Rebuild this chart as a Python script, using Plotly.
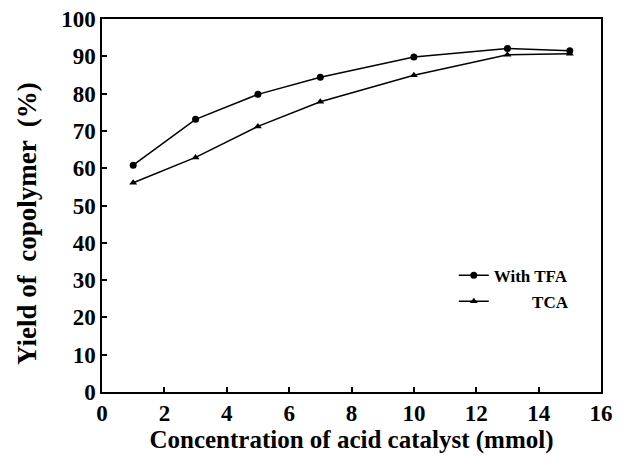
import plotly.graph_objects as go

conc = [1, 3, 5, 7, 10, 13, 15]
tfa = [60.8, 73.1, 79.8, 84.4, 89.8, 92.1, 91.5]
tca = [56.1, 62.9, 71.2, 77.8, 84.9, 90.4, 90.7]

xticks = [0, 2, 4, 6, 8, 10, 12, 14, 16]
yticks = [0, 10, 20, 30, 40, 50, 60, 70, 80, 90, 100]

font_family = "Liberation Serif, Times New Roman, serif"

fig = go.Figure()
fig.add_trace(go.Scatter(
    x=conc, y=tfa, mode="lines+markers", name="<b>With TFA</b>",
    legendgroup="a",
    line=dict(color="black", width=1.5),
    marker=dict(symbol="circle", size=7, color="black"),
))
fig.add_trace(go.Scatter(
    x=conc, y=tca, mode="lines+markers",
    name="<b>\u00a0\u00a0\u00a0\u00a0\u00a0\u00a0\u00a0\u00a0\u00a0TCA</b>",
    legendgroup="b",
    line=dict(color="black", width=1.5),
    marker=dict(symbol="triangle-up", size=7, color="black"),
))

axis_common = dict(
    showline=True, linecolor="black", linewidth=1.5, mirror=True,
    ticks="inside", ticklen=5, tickwidth=1.5, tickcolor="black",
    showgrid=False, zeroline=False, ticklabeloverflow="allow",
    automargin=False,
    tickfont=dict(family=font_family, size=23, color="black", weight="bold"),
)

fig.update_layout(
    width=607, height=446,
    margin=dict(l=94, r=14, t=11, b=62, autoexpand=False),
    plot_bgcolor="white", paper_bgcolor="white",
    font=dict(family=font_family, color="black"),
    xaxis=dict(
        range=[0, 16], tickvals=xticks, ticktext=[str(v) for v in xticks],
        title=dict(text="<b>Concentration of acid catalyst (mmol)</b>",
                   font=dict(family=font_family, size=25, color="black"), standoff=4),
        **axis_common,
    ),
    yaxis=dict(
        range=[0, 100], tickvals=yticks, ticktext=[str(v) for v in yticks],
        **axis_common,
    ),
    annotations=[dict(
        text="<b>Yield of  copolymer  (%)</b>", textangle=-90,
        xref="paper", yref="paper", x=-0.149, y=0.452,
        xanchor="center", yanchor="middle", showarrow=False,
        font=dict(family=font_family, size=27, color="black"),
    )],
    showlegend=True,
    legend=dict(
        x=0.705, y=0.36, xanchor="left", yanchor="top",
        bgcolor="rgba(0,0,0,0)",
        font=dict(family=font_family, size=17, color="black"),
        tracegroupgap=1, itemwidth=30,
    ),
)

fig.write_html("out.html")
